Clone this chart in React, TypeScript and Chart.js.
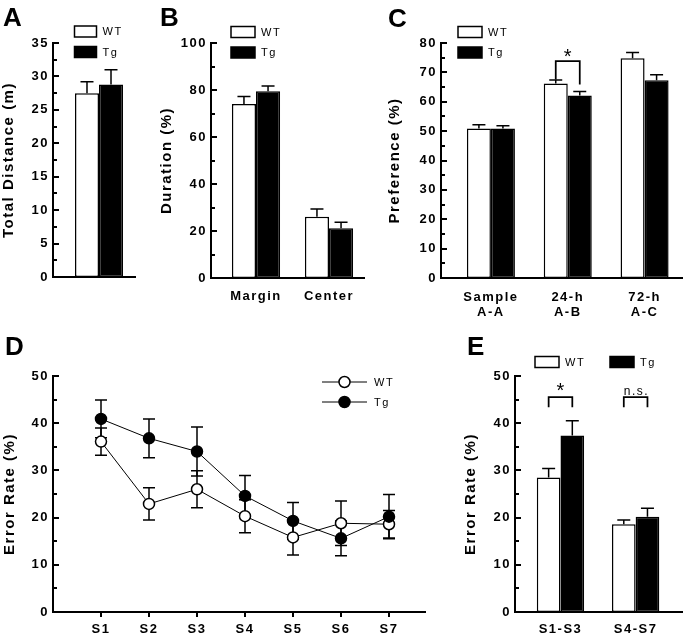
import React, { useEffect, useRef } from 'react';
import { Chart, registerables } from 'chart.js';

Chart.register(...registerables);

const W = 683;
const H = 638;
const FONT = "'Liberation Sans', Arial, Helvetica, sans-serif";
const LETTER_SPACING = '1.5px';

// ---------------- data ----------------
const seriesNames = ['WT', 'Tg'];

const distanceCats = [''];
const distanceWT = [27.5];
const distanceWTsem = [1.7];
const distanceTg = [28.8];
const distanceTgSem = [2.2];

const durationCats = ['Margin', 'Center'];
const durationWT = [74.0, 26.1];
const durationWTsem = [3.2, 3.3];
const durationTg = [79.5, 21.2];
const durationTgSem = [2.2, 2.5];

const preferenceCats = [['Sample', 'A-A'], ['24-h', 'A-B'], ['72-h', 'A-C']];
const preferenceWT = [50.9, 66.2, 74.8];
const preferenceWTsem = [1.3, 1.2, 2.0];
const preferenceTg = [50.9, 62.1, 67.3];
const preferenceTgSem = [0.9, 1.4, 1.9];

const sessions = ['S1', 'S2', 'S3', 'S4', 'S5', 'S6', 'S7'];
const errorWT = [36.1, 22.9, 26.0, 20.3, 15.8, 18.8, 18.6];
const errorWTsem = [2.9, 3.4, 3.9, 3.5, 3.7, 4.7, 2.9];
const errorTg = [40.9, 36.8, 34.0, 24.6, 19.3, 15.6, 20.2];
const errorTgSem = [4.0, 4.1, 5.2, 4.3, 3.9, 3.7, 4.7];

const blockCats = ['S1-S3', 'S4-S7'];
const blockWT = [28.5, 18.6];
const blockWTsem = [1.9, 0.9];
const blockTg = [37.4, 20.2];
const blockTgSem = [3.1, 1.8];

// significance brackets (values in data units)
const preferenceSig = [{ cat: 1, label: '*', top: 74.0, legs: [67.6, 65.9], labelAt: 76.5 }];
const blockSig = [
  { cat: 0, label: '*', top: 45.6, legs: [43.4, 43.4], labelAt: 47.6 },
  { cat: 1, label: 'n.s.', top: 45.6, legs: [43.4, 43.4], labelAt: 46.8 },
];

// ---------------- drawing helpers ----------------
function drawErrors(chart: any, p: any) {
  const ctx = chart.ctx;
  const ys = chart.scales.y;
  chart.data.datasets.forEach((ds: any, i: number) => {
    const errs = ds.errors;
    if (!errs) return;
    const meta = chart.getDatasetMeta(i);
    ctx.save();
    ctx.strokeStyle = '#000';
    ctx.lineWidth = p.errWidth;
    ctx.lineCap = 'butt';
    meta.data.forEach((el: any, j: number) => {
      const raw = ds.data[j];
      const v = typeof raw === 'object' ? raw.y : raw;
      const x = el.x;
      const yHi = ys.getPixelForValue(v + errs[j]);
      const yLo = p.errorsBehind ? ys.getPixelForValue(v - errs[j]) : ys.getPixelForValue(v);
      ctx.beginPath();
      ctx.moveTo(x, yLo);
      ctx.lineTo(x, yHi);
      ctx.moveTo(x - p.cap, yHi);
      ctx.lineTo(x + p.cap, yHi);
      if (p.errorsBehind) {
        ctx.moveTo(x - p.cap, yLo);
        ctx.lineTo(x + p.cap, yLo);
      }
      ctx.stroke();
    });
    ctx.restore();
  });
}

function drawAxes(chart: any, p: any) {
  const ctx = chart.ctx;
  const ys = chart.scales.y;
  const xs = chart.scales.x;
  const yTop = Math.round(ys.getPixelForValue(ys.max));
  const yBot = Math.round(ys.getPixelForValue(ys.min));
  ctx.save();
  ctx.strokeStyle = '#000';
  ctx.lineWidth = 2;
  ctx.lineCap = 'square';
  ctx.lineJoin = 'miter';
  ctx.beginPath();
  ctx.moveTo(p.axisX, yTop);
  ctx.lineTo(p.axisX, yBot);
  ctx.lineTo(p.axisEnd, yBot);
  ctx.stroke();
  ctx.lineCap = 'butt';
  ctx.beginPath();
  for (let v = ys.min; v <= ys.max + 1e-6; v += p.minorStep) {
    const y = Math.round(ys.getPixelForValue(v));
    const major = Math.abs(v / p.majorStep - Math.round(v / p.majorStep)) < 1e-6;
    ctx.moveTo(p.axisX, y);
    ctx.lineTo(p.axisX + (major ? 6 : 4), y);
  }
  if (p.xTicks) {
    xs.ticks.forEach((t: any) => {
      const x = Math.round(xs.getPixelForValue(t.value));
      ctx.moveTo(x, yBot);
      ctx.lineTo(x, yBot + 5);
    });
  }
  ctx.stroke();
  ctx.restore();
}

function drawBrackets(chart: any, p: any) {
  if (!p.brackets) return;
  const ctx = chart.ctx;
  const ys = chart.scales.y;
  p.brackets.forEach((b: any) => {
    const x1 = chart.getDatasetMeta(0).data[b.cat].x;
    const x2 = chart.getDatasetMeta(1).data[b.cat].x;
    const yT = Math.round(ys.getPixelForValue(b.top));
    const yL = ys.getPixelForValue(b.legs[0]);
    const yR = ys.getPixelForValue(b.legs[1]);
    ctx.save();
    ctx.strokeStyle = '#000';
    ctx.lineWidth = 1.75;
    ctx.lineJoin = 'miter';
    ctx.beginPath();
    ctx.moveTo(x1, yL);
    ctx.lineTo(x1, yT);
    ctx.lineTo(x2, yT);
    ctx.lineTo(x2, yR);
    ctx.stroke();
    const size = b.label === '*' ? 20 : 12;
    ctx.font = `${size}px ${FONT}`;
    ctx.fillStyle = '#000';
    ctx.textAlign = 'center';
    ctx.textBaseline = 'alphabetic';
    const m = ctx.measureText(b.label);
    const cy = ys.getPixelForValue(b.labelAt);
    ctx.fillText(b.label, (x1 + x2) / 2 + 0.75, cy + (m.actualBoundingBoxAscent - m.actualBoundingBoxDescent) / 2);
    ctx.restore();
  });
}

function drawLegend(chart: any, p: any) {
  const L = p.legend;
  const ctx = chart.ctx;
  ctx.save();
  ctx.font = `${L.fontSize}px ${FONT}`;
  ctx.textBaseline = 'middle';
  ctx.textAlign = 'left';
  chart.data.datasets.forEach((ds: any, i: number) => {
    const x = L.x + (L.dx || 0) * i;
    const y = L.y + (L.dy || 0) * i;
    if (L.kind === 'box') {
      ctx.fillStyle = ds.backgroundColor;
      ctx.fillRect(x, y - L.h / 2, L.w, L.h);
      ctx.lineWidth = 1.5;
      ctx.strokeStyle = '#000';
      ctx.strokeRect(x, y - L.h / 2, L.w, L.h);
    } else {
      ctx.lineWidth = 1;
      ctx.strokeStyle = '#000';
      ctx.beginPath();
      ctx.moveTo(x, y);
      ctx.lineTo(x + L.w, y);
      ctx.stroke();
      ctx.beginPath();
      ctx.arc(x + L.w / 2, y, 5.5, 0, Math.PI * 2);
      ctx.fillStyle = ds.pointBackgroundColor;
      ctx.fill();
      ctx.lineWidth = 1.5;
      ctx.stroke();
    }
    ctx.fillStyle = '#000';
    ctx.fillText(ds.label, x + L.w + L.gap, y + 0.5);
  });
  ctx.restore();
}

function drawLetter(chart: any, p: any) {
  const ctx = chart.ctx;
  ctx.save();
  ctx.font = `bold 26px ${FONT}`;
  ctx.fillStyle = '#000';
  ctx.textAlign = 'left';
  ctx.textBaseline = 'alphabetic';
  ctx.fillText(p.letter, p.letterX, p.letterY);
  ctx.restore();
}

function makePlugin(p: any) {
  return {
    id: 'figure' + p.letter,
    beforeUpdate(chart: any) {
      chart.ctx.letterSpacing = LETTER_SPACING;
    },
    beforeDraw(chart: any) {
      chart.ctx.letterSpacing = LETTER_SPACING;
    },
    beforeDatasetsDraw(chart: any) {
      if (p.errorsBehind) drawErrors(chart, p);
    },
    afterDatasetsDraw(chart: any) {
      if (!p.errorsBehind) drawErrors(chart, p);
      drawAxes(chart, p);
      drawBrackets(chart, p);
      drawLegend(chart, p);
      drawLetter(chart, p);
    },
  };
}

const tickFont = { family: FONT, size: 13, weight: 'bold' as const, lineHeight: 1.15 };
const titleFont = { family: FONT, size: 15, weight: 'bold' as const };

function yScale(max: number, step: number, title: string, width: number, pad: number) {
  return {
    type: 'linear',
    min: 0,
    max,
    grid: { display: false, drawTicks: false },
    border: { display: false },
    ticks: { stepSize: step, color: '#000', font: tickFont, padding: pad },
    title: { display: true, text: title, color: '#000', font: titleFont, padding: { top: 0, bottom: 0 } },
    afterFit: (s: any) => {
      s.width = width;
    },
  };
}

function barConfig(o: any) {
  return {
    type: 'bar',
    data: {
      labels: o.labels,
      datasets: [
        {
          label: seriesNames[0], data: o.wt, errors: o.wtSem,
          backgroundColor: '#ffffff', borderColor: '#000000', borderWidth: 1.5, borderSkipped: false,
          categoryPercentage: o.catPct, barPercentage: 1,
        },
        {
          label: seriesNames[1], data: o.tg, errors: o.tgSem,
          backgroundColor: '#000000', borderColor: '#000000', borderWidth: 1.5, borderSkipped: false,
          categoryPercentage: o.catPct, barPercentage: 1,
        },
      ],
    },
    options: {
      responsive: false,
      animation: false,
      devicePixelRatio: 1,
      events: [],
      layout: { padding: { left: o.padLeft, top: o.top, right: W - o.bandRight, bottom: 0 } },
      plugins: { legend: { display: false }, tooltip: { enabled: false }, title: { display: false } },
      scales: {
        x: {
          type: 'category',
          offset: true,
          grid: { display: false, drawTicks: false },
          border: { display: false },
          ticks: { color: '#000', font: tickFont, padding: o.xPad, maxRotation: 0, autoSkip: false },
          afterFit: (s: any) => {
            s.height = H - o.bottom;
          },
        },
        y: yScale(o.yMax, o.yStep, o.title, o.bandLeft - o.padLeft, o.bandLeft - o.plugin.axisX + 4),
      },
    },
    plugins: [makePlugin(o.plugin)],
  };
}

function buildA() {
  return barConfig({
    labels: distanceCats, wt: distanceWT, wtSem: distanceWTsem, tg: distanceTg, tgSem: distanceTgSem,
    catPct: 0.667, padLeft: 0, top: 43, bottom: 277, bandLeft: 63, bandRight: 135, xPad: 11,
    yMax: 35, yStep: 5, title: 'Total Distance (m)',
    plugin: {
      letter: 'A', letterX: 3, letterY: 26, axisX: 53, axisEnd: 135, minorStep: 2.5, majorStep: 5,
      errWidth: 1.5, cap: 6.5,
      legend: { kind: 'box', x: 74.5, y: 31.5, dy: 20.5, w: 22, h: 11, gap: 6, fontSize: 11 },
    },
  });
}

function buildB() {
  return barConfig({
    labels: durationCats, wt: durationWT, wtSem: durationWTsem, tg: durationTg, tgSem: durationTgSem,
    catPct: 0.66, padLeft: 157.5, top: 43, bottom: 278, bandLeft: 219.5, bandRight: 365.5, xPad: 11,
    yMax: 100, yStep: 20, title: 'Duration (%)',
    plugin: {
      letter: 'B', letterX: 160, letterY: 26, axisX: 211, axisEnd: 364, minorStep: 10, majorStep: 20,
      errWidth: 1.5, cap: 6.5,
      legend: { kind: 'box', x: 231, y: 32, dy: 20.5, w: 24, h: 11, gap: 6, fontSize: 11 },
    },
  });
}

function buildC() {
  return barConfig({
    labels: preferenceCats, wt: preferenceWT, wtSem: preferenceWTsem, tg: preferenceTg, tgSem: preferenceTgSem,
    catPct: 0.625, padLeft: 386, top: 43, bottom: 278, bandLeft: 452.5, bandRight: 683, xPad: 11.5,
    yMax: 80, yStep: 10, title: 'Preference (%)',
    plugin: {
      letter: 'C', letterX: 388, letterY: 27, axisX: 441, axisEnd: 682, minorStep: 5, majorStep: 10,
      errWidth: 1.5, cap: 6.5, brackets: preferenceSig,
      legend: { kind: 'box', x: 458, y: 32, dy: 20.5, w: 24, h: 11, gap: 6, fontSize: 11 },
    },
  });
}

function buildE() {
  return barConfig({
    labels: blockCats, wt: blockWT, wtSem: blockWTsem, tg: blockTg, tgSem: blockTgSem,
    catPct: 0.63, padLeft: 462, top: 376, bottom: 612, bandLeft: 522.9, bandRight: 673.2, xPad: 10,
    yMax: 50, yStep: 10, title: 'Error Rate (%)',
    plugin: {
      letter: 'E', letterX: 467, letterY: 355, axisX: 515, axisEnd: 682, minorStep: 5, majorStep: 10,
      errWidth: 1.5, cap: 6.5, brackets: blockSig,
      legend: { kind: 'box', x: 535, y: 362, dx: 75, w: 24, h: 11, gap: 6, fontSize: 11 },
    },
  });
}

function buildD() {
  const plugin = {
    letter: 'D', letterX: 5, letterY: 355, axisX: 53, axisEnd: 425, minorStep: 5, majorStep: 10,
    errWidth: 1.5, cap: 6, errorsBehind: true, xTicks: true,
    legend: { kind: 'line', x: 322, y: 382, dy: 20, w: 45, h: 0, gap: 7, fontSize: 11 },
  };
  return {
    type: 'line',
    data: {
      datasets: [
        {
          label: seriesNames[0],
          data: sessions.map((_, i) => ({ x: i + 1, y: errorWT[i] })),
          errors: errorWTsem,
          borderColor: '#000', borderWidth: 1, tension: 0,
          pointRadius: 5.5, pointBorderWidth: 1.5, pointBorderColor: '#000', pointBackgroundColor: '#ffffff',
          order: 1,
        },
        {
          label: seriesNames[1],
          data: sessions.map((_, i) => ({ x: i + 1, y: errorTg[i] })),
          errors: errorTgSem,
          borderColor: '#000', borderWidth: 1, tension: 0,
          pointRadius: 5.5, pointBorderWidth: 1.5, pointBorderColor: '#000', pointBackgroundColor: '#000000',
          order: 0,
        },
      ],
    },
    options: {
      responsive: false,
      animation: false,
      devicePixelRatio: 1,
      events: [],
      layout: { padding: { left: 1, top: 376, right: W - 425, bottom: 0 } },
      plugins: { legend: { display: false }, tooltip: { enabled: false }, title: { display: false } },
      scales: {
        x: {
          type: 'linear',
          min: 0,
          max: 7.75,
          grid: { display: false, drawTicks: false },
          border: { display: false },
          afterBuildTicks: (s: any) => {
            s.ticks = sessions.map((_, i) => ({ value: i + 1 }));
          },
          ticks: {
            color: '#000', font: tickFont, padding: 10, maxRotation: 0, autoSkip: false,
            callback: (v: any) => sessions[Math.round(v) - 1] ?? '',
          },
          afterFit: (s: any) => {
            s.height = H - 612;
          },
        },
        y: yScale(50, 10, 'Error Rate (%)', 52, 4),
      },
    },
    plugins: [makePlugin(plugin)],
  };
}

function ChartCanvas({ build }: { build: () => any }) {
  const ref = useRef<HTMLCanvasElement>(null);
  useEffect(() => {
    const chart = new Chart(ref.current as HTMLCanvasElement, build());
    return () => chart.destroy();
  }, []);
  return (
    <canvas
      ref={ref}
      width={W}
      height={H}
      style={{ position: 'absolute', left: 0, top: 0, width: W, height: H }}
    />
  );
}

export default function App() {
  return (
    <div style={{ position: 'absolute', left: 0, top: 0, width: W, height: H, background: '#fff', overflow: 'hidden' }}>
      <ChartCanvas build={buildA} />
      <ChartCanvas build={buildB} />
      <ChartCanvas build={buildC} />
      <ChartCanvas build={buildD} />
      <ChartCanvas build={buildE} />
    </div>
  );
}
